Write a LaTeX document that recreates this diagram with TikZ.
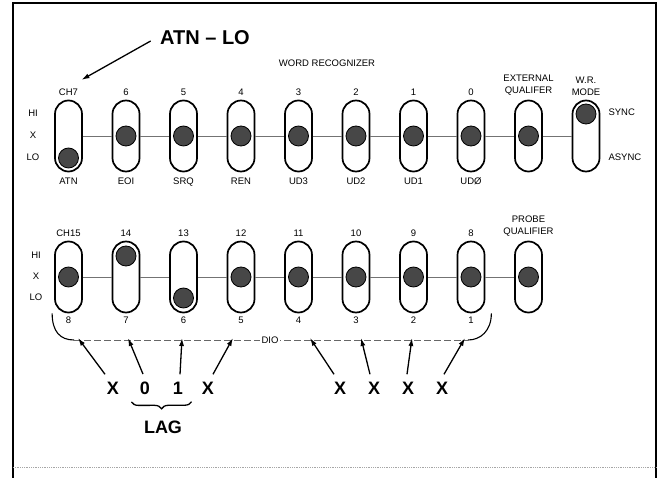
\documentclass[tikz,border=0pt]{standalone}
\usepackage{fontspec}
\setmainfont{Liberation Sans}
\usetikzlibrary{positioning,arrows.meta,decorations.pathreplacing}

\tikzset{
	slot/.style={draw,line width=1.7pt,rounded corners=13.5pt,minimum width=27pt,minimum height=71pt,inner sep=0pt},
	knob/.style={circle,draw=black,line width=0.8pt,fill=black!72,minimum size=20pt,inner sep=0pt},
	lbl/.style={font=\fontsize{9.5}{12}\selectfont,align=center},
	tag/.style={lbl,text height=7pt,text depth=1pt},
	big/.style={font=\fontsize{18}{20}\selectfont\bfseries},
	pin/.style={-{Latex[length=8pt,width=5pt]},line width=1.3pt},
	link/.style={black!55,line width=0.9pt},
	dio/.style={black!60,line width=0.9pt,dash pattern=on 7pt off 3pt},
}

\begin{document}
\begin{tikzpicture}[x=1pt,y=-1pt]
	\useasboundingbox (0,0) rectangle (664,478);
	
	% frame
	\draw[line width=2.4pt] (13,478) -- (13,3) -- (656,3) -- (656,478);
	\draw[black!35,line width=0.8pt,densely dotted] (13,467) -- (656,467);
	
	% word recognizer row
	\node[lbl] (wr) at (327,63) {WORD RECOGNIZER};
	\foreach \i/\up/\dn/\k in {0/CH7/ATN/22,1/6/EOI/0,2/5/SRQ/0,3/4/REN/0,4/3/UD3/0,5/2/UD2/0,6/1/UD1/0,7/0/UDØ/0,8/{EXTERNAL\\QUALIFER}/{}/0,9/{W.R.\\MODE}/{}/-22}
	{
		\node[slot] (t\i) at (68.5+57.5*\i,136) {};
		\node[knob] (tk\i) at (68.5+57.5*\i,136+\k) {};
		\node[lbl,above=1pt of t\i] (tu\i) {\up};
		\node[tag,below=2pt of t\i] (td\i) {\dn};
	}
	\foreach \i [count=\j] in {0,...,8}
		\draw[link] (t\i) -- (t\j);
	\node[tag] (hi1) at (33,114) {HI};
	\node[tag] (x1) at (33,136) {X};
	\node[tag] (lo1) at (33,158) {LO};
	\node[tag,anchor=west] (sync) at (605,113) {SYNC};
	\node[tag,anchor=west] (async) at (605,158) {ASYNC};
	
	% channel 8-15 row
	\foreach \i/\up/\dn/\k in {0/CH15/8/0,1/14/7/-21,2/13/6/21,3/12/5/0,4/11/4/0,5/10/3/0,6/9/2/0,7/8/1/0,8/{PROBE\\QUALIFIER}/{}/0}
	{
		\node[slot] (b\i) at (68.5+57.5*\i,277) {};
		\node[knob] (bk\i) at (68.5+57.5*\i,277+\k) {};
		\node[lbl,above=1pt of b\i] (bu\i) {\up};
		\node[tag,below=0pt of b\i] (bd\i) {\dn};
	}
	\foreach \i [count=\j] in {0,...,7}
		\draw[link] (b\i) -- (b\j);
	\node[tag] (hi2) at (36,256) {HI};
	\node[tag] (x2) at (36,277) {X};
	\node[tag] (lo2) at (36,298) {LO};
	
	% DIO bus
	\coordinate (dl) at (74,340);
	\coordinate (dr) at (468,340);
	\draw[line width=1.1pt] ([xshift=-2pt]b0.south west) .. controls +(0,18) and +(-14,0) .. (dl);
	\draw[line width=1.1pt] ([xshift=6pt]b7.south east) .. controls +(0,18) and +(12,0) .. (dr);
	\draw[dio] (dl) -- (dr);
	\node[tag,fill=white,inner sep=2pt] (dio) at (270,340) {DIO};
	\foreach \n/\x in {8/78,7/128,6/182,5/233,4/310,3/361,2/412,1/465}
		\coordinate (d\n) at (\x,338);
	
	% pattern
	\foreach \n/\x/\t in {8/113/X,7/145/0,6/178/1,5/208/X,4/340/X,3/374/X,2/408/X,1/442/X}
		\node[big] (v\n) at (\x,388) {\t};
	\foreach \n/\dx in {8/-8,7/-2,6/2,5/5,4/-6,3/-4,2/-1,1/2}
		\draw[pin] ([xshift=\dx pt,yshift=4pt]v\n.north) -- (d\n);
	\draw[line width=1.3pt,decorate,decoration={brace,amplitude=7pt}] ([xshift=5pt,yshift=-4pt]v6.south east) -- ([xshift=-5pt,yshift=-4pt]v7.south west);
	\node[big] (lag) at (163,427) {LAG};
	
	% callout
	\node[big,font=\fontsize{20}{22}\selectfont\bfseries] (atnlo) at (205,38) {ATN -- LO};
	\draw[pin] ([xshift=-6pt,yshift=-3pt]atnlo.west) -- ([yshift=5pt]tu0.north east);
\end{tikzpicture}
\end{document}
